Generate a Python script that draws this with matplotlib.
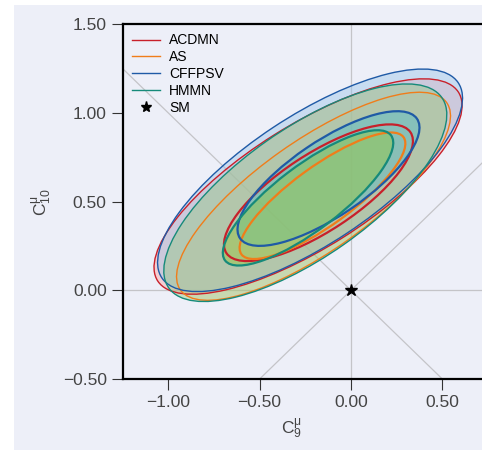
import matplotlib
matplotlib.use("Agg")
import matplotlib.pyplot as plt
from matplotlib.patches import Ellipse, Rectangle
from matplotlib.lines import Line2D

plt.rcParams["font.family"] = ["Liberation Sans", "DejaVu Sans"]
plt.rcParams["mathtext.fontset"] = "custom"
plt.rcParams["mathtext.rm"] = "Liberation Sans"
plt.rcParams["mathtext.it"] = "Liberation Sans"

# models (legend order)
models = ["ACDMN", "AS", "CFFPSV", "HMMN"]
line_colors = ["#c8202a", "#f07d1a", "#1f5aa6", "#168a7a"]

# 2 sigma contours: centre (C9, C10), full major / minor axis, tilt (deg)
outer_cx = [-0.235, -0.205, -0.224, -0.25]
outer_cy = [0.585, 0.53, 0.62, 0.55]
outer_w = [1.96, 1.80, 1.96, 1.84]
outer_h = [0.69, 0.62, 0.72, 0.72]
outer_ang = [33.0, 36.1, 34.3, 35.9]

# 1 sigma contours
inner_cx = [-0.178, -0.156, -0.123, -0.235]
inner_cy = [0.55, 0.533, 0.63, 0.521]
inner_w = [1.216, 1.106, 1.18, 1.15]
inner_h = [0.43, 0.33, 0.42, 0.36]
inner_ang = [34.2, 36.8, 35.0, 38.0]

# fill tints
outer_fill = ["#ffa2a2", "#ffb450", "#99c4ea", "#8cc878"]
outer_alpha = [0.44, 0.2, 0.44, 0.4]
inner_fill = ["#ffa2a2", "#ffb450", "#32b9d7", "#96c83c"]
inner_alpha = [0.05, 0.05, 0.35, 0.45]

sm_point = (0.0, 0.0)

bg = "#edeff8"
fig = plt.figure(figsize=(4.82, 4.5), dpi=100)
fig.patches.append(Rectangle((14 / 482, 0), 1, 445 / 450, transform=fig.transFigure,
                             facecolor=bg, edgecolor="none", zorder=-10))
ax = fig.add_axes([122.6 / 482, 71 / 450, 365.4 / 482, 354.8 / 450])
ax.set_facecolor(bg)
ax.set_xlim(-1.25, 0.75)
ax.set_ylim(-0.5, 1.5)

# reference lines
for s in (1, -1):
    ax.axline((0, 0), slope=s, color="#c4c4c8", lw=0.9, zorder=1)
ax.axvline(0, color="#c4c4c8", lw=0.9, zorder=1)
ax.axhline(0, color="#c4c4c8", lw=0.9, zorder=1)

# fills
for i in range(4):
    ax.add_patch(Ellipse((outer_cx[i], outer_cy[i]), outer_w[i], outer_h[i], angle=outer_ang[i],
                         facecolor=outer_fill[i], alpha=outer_alpha[i], edgecolor="none", zorder=2))
for i in range(4):
    ax.add_patch(Ellipse((inner_cx[i], inner_cy[i]), inner_w[i], inner_h[i], angle=inner_ang[i],
                         facecolor=inner_fill[i], alpha=inner_alpha[i], edgecolor="none", zorder=3))
# outlines
for i in range(4):
    ax.add_patch(Ellipse((outer_cx[i], outer_cy[i]), outer_w[i], outer_h[i], angle=outer_ang[i],
                         facecolor="none", edgecolor=line_colors[i], lw=1.0, zorder=4))
    ax.add_patch(Ellipse((inner_cx[i], inner_cy[i]), inner_w[i], inner_h[i], angle=inner_ang[i],
                         facecolor="none", edgecolor=line_colors[i], lw=1.6, zorder=4))

ax.plot(*sm_point, marker="*", color="black", ms=9, ls="none", zorder=6)

# axes styling
for side in ("left", "bottom", "top", "right"):
    ax.spines[side].set_linewidth(1.6)
    ax.spines[side].set_color("black")
ax.set_xticks([-1.0, -0.5, 0.0, 0.5])
ax.set_yticks([-0.5, 0.0, 0.5, 1.0, 1.5])
ax.xaxis.set_major_formatter(matplotlib.ticker.StrMethodFormatter("{x:.2f}"))
ax.yaxis.set_major_formatter(matplotlib.ticker.StrMethodFormatter("{x:.2f}"))
ax.tick_params(direction="out", length=8, width=0.8, pad=3.5, labelsize=12.5,
               color="#333333", labelcolor="#444444")
ax.set_xlabel(r"$\mathrm{C}_9^{\mu}$", fontsize=12.5, color="#444444")
ax.set_ylabel(r"$\mathrm{C}_{10}^{\mu}$", fontsize=12.5, color="#444444")
ax.xaxis.set_label_coords((291 - 122.6) / 365.4, -38 / 354.8)
ax.yaxis.set_label_coords(-(122.6 - 54) / 365.4, 0.5)

handles = [Line2D([], [], color=c, lw=1.0) for c in line_colors]
handles.append(Line2D([], [], color="black", marker="*", ls="none", ms=8))
ax.legend(handles, models + ["SM"], loc="upper left", bbox_to_anchor=(0.027, 0.974),
          frameon=False, fontsize=10, labelspacing=0.2, handlelength=2.0,
          handletextpad=0.65, borderpad=0, borderaxespad=0)

fig.savefig("out.png", dpi=100, facecolor="white")
